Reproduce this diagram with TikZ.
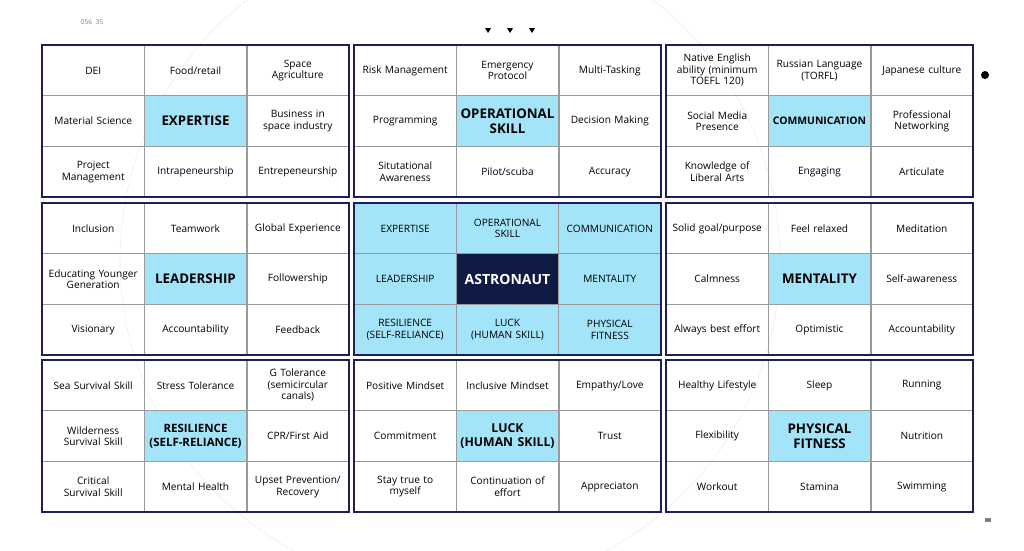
\documentclass[tikz,border=0pt]{standalone}
\usepackage{fontspec}
\setmainfont{Open Sans}
\hyphenpenalty=10000 \exhyphenpenalty=10000
\definecolor{navy}{HTML}{1B2058}
\definecolor{cy}{HTML}{A3E4F8}
\definecolor{grid}{HTML}{9A9A9A}
\definecolor{dk}{HTML}{0F1A45}
\begin{document}
\begin{tikzpicture}[x=0.75pt,y=-0.75pt,
  cell/.style={draw=grid,line width=0.5pt,minimum width=76.7pt,minimum height=38pt,inner sep=1pt,align=center,font=\fontsize{7.6}{8.6}\selectfont,text width=75pt},
  hub/.style={fill=cy,font=\fontsize{10}{11}\selectfont\bfseries},
  core/.style={fill=cy},
  star/.style={fill=dk,text=white,font=\fontsize{10.5}{11}\selectfont\bfseries},
  frame/.style={draw=navy,line width=0.9pt}]
\useasboundingbox (0,0) rectangle (1024,550);
\fill[white] (0,0) rectangle (1024,550);
\draw[gray!15] (450,260) circle (330);
\newcommand\blk[4]{% bx by name list
 \foreach \t [count=\k from 0] in {#4}{
  \pgfmathtruncatemacro\ii{mod(\k,3)}\pgfmathtruncatemacro\jj{div(\k,3)}
  \ifnum\k=4 \node[cell,hub] (#3\k) at ({#1+51.2+102.3*\ii},{#2+25.4+50.7*\jj}) {\t};
  \else \node[cell] (#3\k) at ({#1+51.2+102.3*\ii},{#2+25.4+50.7*\jj}) {\t};\fi}
 \draw[frame] (#1,#2) rectangle ({#1+307},{#2+152});}
\blk{42}{45}{a}{{DEI},{Food/retail},{Space\\Agriculture},{Material Science},{EXPERTISE},{Business in space industry},{Project\\Management},{Intrapeneurship},{Entrepeneurship}}
\blk{354}{45}{b}{{Risk Management},{Emergency\\Protocol},{Multi-Tasking},{Programming},{OPERATIONAL SKILL},{Decision Making},{Situtational\\Awareness},{Pilot/scuba},{Accuracy}}
\blk{666}{45}{c}{{Native English ability (minimum TOEFL 120)},{Russian Language (TORFL)},{Japanese culture},{Social Media\\Presence},{\fontsize{7.8}{9}\selectfont COMMUNICATION},{Professional\\Networking},{Knowledge of\\Liberal Arts},{Engaging},{Articulate}}
\blk{42}{203}{d}{{Inclusion},{Teamwork},{Global Experience},{Educating Younger Generation},{LEADERSHIP},{Followership},{Visionary},{Accountability},{Feedback}}
\blk{666}{203}{f}{{Solid goal/purpose},{Feel relaxed},{Meditation},{Calmness},{MENTALITY},{Self-awareness},{Always best effort},{Optimistic},{Accountability}}
\blk{42}{360}{g}{{Sea Survival Skill},{Stress Tolerance},{G Tolerance\\(semicircular\\canals)},{Wilderness\\Survival Skill},{\fontsize{8.6}{9.6}\selectfont RESILIENCE\\(SELF-RELIANCE)},{CPR/First Aid},{Critical\\Survival Skill},{Mental Health},{Upset Prevention/\\Recovery}}
\blk{354}{360}{h}{{Positive Mindset},{Inclusive Mindset},{Empathy/Love},{Commitment},{\fontsize{9.2}{10.4}\selectfont LUCK\\(HUMAN SKILL)},{Trust},{Stay true to\\myself},{Continuation of\\effort},{Appreciaton}}
\blk{666}{360}{i}{{Healthy Lifestyle},{Sleep},{Running},{Flexibility},{PHYSICAL\\FITNESS},{Nutrition},{Workout},{Stamina},{Swimming}}
% center block
\foreach \t [count=\k from 0] in {{EXPERTISE},{OPERATIONAL\\SKILL},{COMMUNICATION},{LEADERSHIP},{ASTRONAUT},{MENTALITY},{RESILIENCE\\(SELF-RELIANCE)},{LUCK\\(HUMAN SKILL)},{PHYSICAL\\FITNESS}}{
  \pgfmathtruncatemacro\ii{mod(\k,3)}\pgfmathtruncatemacro\jj{div(\k,3)}
  \ifnum\k=4 \node[cell,star] (e\k) at ({354+51.2+102.3*\ii},{203+25.4+50.7*\jj}) {\t};
  \else \node[cell,core] (e\k) at ({354+51.2+102.3*\ii},{203+25.4+50.7*\jj}) {\t};\fi}
\draw[navy,line width=1.6pt] (354,203) rectangle (661,355);
\foreach \x in {488,510,532}\fill[black] (\x-3,28)--(\x+3,28)--(\x,33)--cycle;
\node[font=\fontsize{5}{5}\selectfont,text=gray] (lbl) at (92,22) {056\ \ 35};
\fill[black] (985,75) circle (4);
\fill[gray] (985,518) rectangle (991,522);
\end{tikzpicture}
\end{document}
